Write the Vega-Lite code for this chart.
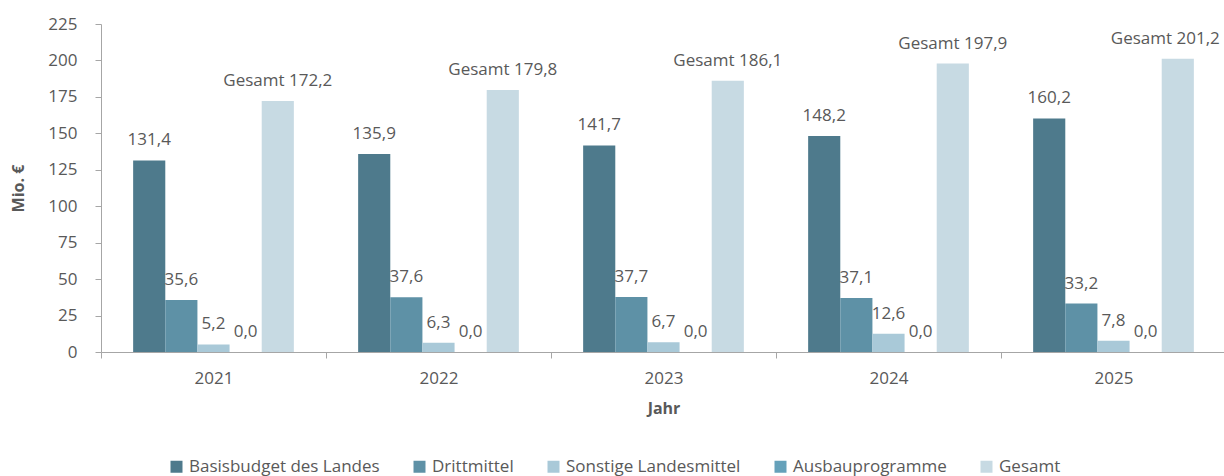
{
  "$schema": "https://vega.github.io/schema/vega-lite/v6.json",
  "autosize": "none",
  "width": 1125,
  "height": 328,
  "padding": {"left": 101, "top": 24, "right": 0, "bottom": 124},
  "background": "#ffffff",
  "config": {
    "font": "Open Sans",
    "view": {"stroke": null},
    "axis": {"labelFont": "Open Sans", "titleFont": "Open Sans"},
    "legend": {"labelFont": "Open Sans"}
  },
  "data": {
    "values": [
      {"year": "2021", "cat": "Basisbudget des Landes", "value": 131.4},
      {"year": "2021", "cat": "Drittmittel", "value": 35.6},
      {"year": "2021", "cat": "Sonstige Landesmittel", "value": 5.2},
      {"year": "2021", "cat": "Ausbauprogramme", "value": 0.0},
      {"year": "2021", "cat": "Gesamt", "value": 172.2},
      {"year": "2022", "cat": "Basisbudget des Landes", "value": 135.9},
      {"year": "2022", "cat": "Drittmittel", "value": 37.6},
      {"year": "2022", "cat": "Sonstige Landesmittel", "value": 6.3},
      {"year": "2022", "cat": "Ausbauprogramme", "value": 0.0},
      {"year": "2022", "cat": "Gesamt", "value": 179.8},
      {"year": "2023", "cat": "Basisbudget des Landes", "value": 141.7},
      {"year": "2023", "cat": "Drittmittel", "value": 37.7},
      {"year": "2023", "cat": "Sonstige Landesmittel", "value": 6.7},
      {"year": "2023", "cat": "Ausbauprogramme", "value": 0.0},
      {"year": "2023", "cat": "Gesamt", "value": 186.1},
      {"year": "2024", "cat": "Basisbudget des Landes", "value": 148.2},
      {"year": "2024", "cat": "Drittmittel", "value": 37.1},
      {"year": "2024", "cat": "Sonstige Landesmittel", "value": 12.6},
      {"year": "2024", "cat": "Ausbauprogramme", "value": 0.0},
      {"year": "2024", "cat": "Gesamt", "value": 197.9},
      {"year": "2025", "cat": "Basisbudget des Landes", "value": 160.2},
      {"year": "2025", "cat": "Drittmittel", "value": 33.2},
      {"year": "2025", "cat": "Sonstige Landesmittel", "value": 7.8},
      {"year": "2025", "cat": "Ausbauprogramme", "value": 0.0},
      {"year": "2025", "cat": "Gesamt", "value": 201.2}
    ]
  },
  "transform": [
    {"calculate": "(datum.cat == 'Gesamt' ? 'Gesamt ' : '') + replace(format(datum.value, '.1f'), '.', ',')", "as": "label"}
  ],
  "encoding": {
    "x": {
      "field": "year",
      "type": "nominal",
      "scale": {"paddingInner": 0, "paddingOuter": 0},
      "axis": {
        "title": "Jahr",
        "labelAngle": 0,
        "tickBand": "extent",
        "domainColor": "#a6a6a6",
        "tickColor": "#a6a6a6",
        "tickSize": 6,
        "labelFontSize": 17,
        "labelColor": "#595959",
        "labelPadding": 12,
        "titleFontSize": 16,
        "titleFontWeight": "bold",
        "titleColor": "#595959",
        "titlePadding": 14,
        "grid": false
      }
    },
    "xOffset": {
      "field": "cat",
      "type": "nominal",
      "sort": ["Basisbudget des Landes", "Drittmittel", "Sonstige Landesmittel", "Ausbauprogramme", "Gesamt"],
      "scale": {"paddingInner": 0, "paddingOuter": 1.0156}
    },
    "y": {
      "field": "value",
      "type": "quantitative",
      "scale": {"domain": [0, 225], "nice": false},
      "axis": {
        "title": "Mio. €",
        "values": [0, 25, 50, 75, 100, 125, 150, 175, 200, 225],
        "grid": false,
        "domainColor": "#a6a6a6",
        "tickColor": "#a6a6a6",
        "tickSize": 6,
        "labelFontSize": 17,
        "labelColor": "#595959",
        "labelPadding": 18,
        "titleFontSize": 16,
        "titleFontWeight": "bold",
        "titleColor": "#595959",
        "titlePadding": 21
      }
    }
  },
  "layer": [
    {
      "mark": {"type": "bar"},
      "encoding": {
        "color": {
          "field": "cat",
          "type": "nominal",
          "sort": ["Basisbudget des Landes", "Drittmittel", "Sonstige Landesmittel", "Ausbauprogramme", "Gesamt"],
          "scale": {
            "domain": ["Basisbudget des Landes", "Drittmittel", "Sonstige Landesmittel", "Ausbauprogramme", "Gesamt"],
            "range": ["#4e7a8c", "#5e91a6", "#a9c9d8", "#65a1ba", "#c7dae3"]
          },
          "legend": {
            "title": null,
            "orient": "none",
            "direction": "horizontal",
            "legendX": 67,
            "legendY": 434,
            "symbolType": "square",
            "symbolSize": 144,
            "symbolStrokeWidth": 0,
            "labelFontSize": 17,
            "labelLimit": 0,
            "labelColor": "#595959",
            "labelOffset": 4,
            "columnPadding": 31
          }
        }
      }
    },
    {
      "transform": [{"filter": "!(datum.year == '2025' && datum.cat == 'Gesamt')"}],
      "mark": {"type": "text", "baseline": "alphabetic", "dy": -15, "fontSize": 17, "color": "#595959", "font": "Open Sans"},
      "encoding": {
        "text": {"field": "label", "type": "nominal"}
      }
    },
    {
      "transform": [{"filter": "datum.year == '2025' && datum.cat == 'Gesamt'"}],
      "mark": {"type": "text", "baseline": "alphabetic", "align": "right", "dy": -15, "dx": 42, "fontSize": 17, "color": "#595959", "font": "Open Sans"},
      "encoding": {
        "text": {"field": "label", "type": "nominal"}
      }
    }
  ]
}
